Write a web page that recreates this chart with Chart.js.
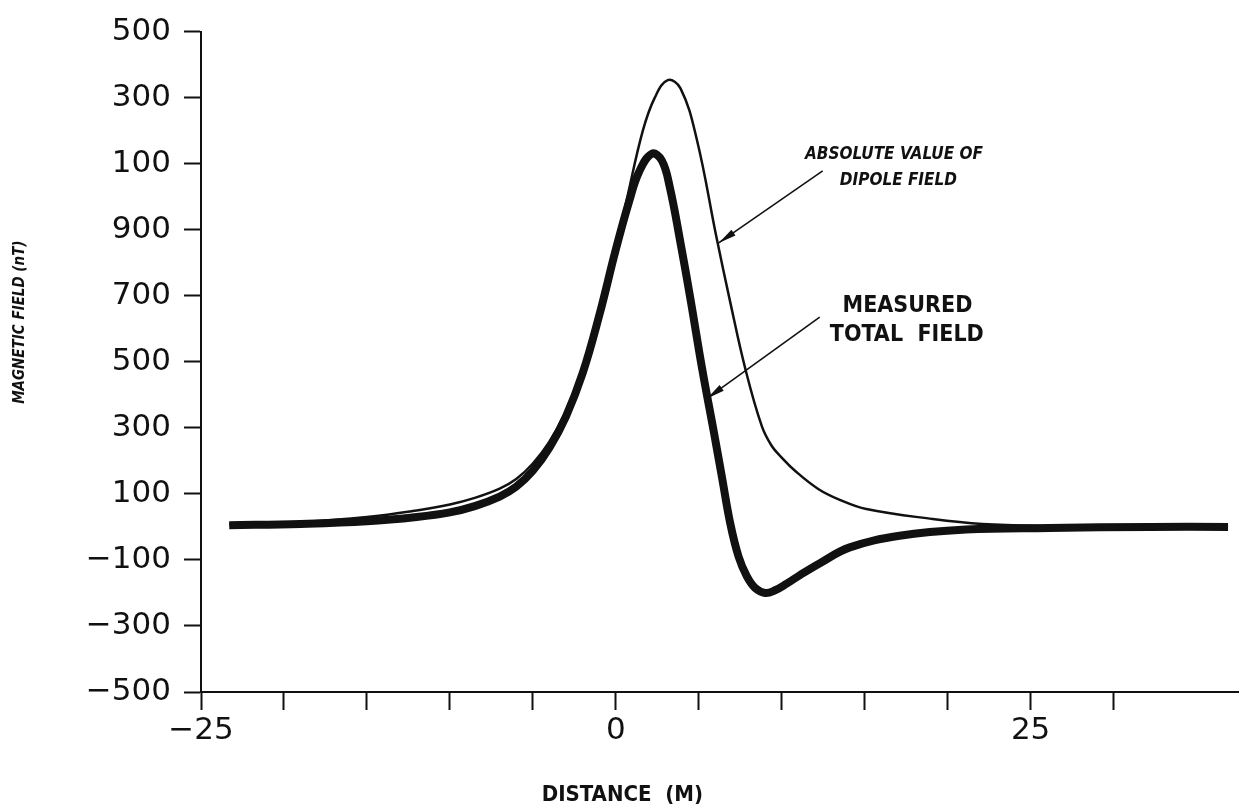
<!DOCTYPE html>
<html>
<head>
<meta charset="utf-8">
<script src="https://cdn.jsdelivr.net/npm/chart.js@4"></script>
<style>
  html, body { margin: 0; padding: 0; background: #fff; }
  #wrap { width: 1246px; height: 811px; }
</style>
</head>
<body>
<div id="wrap"><canvas id="fieldChart" width="1246" height="811"></canvas></div>
<script>
// absolute value of dipole field (thin line)
const dipoleX = [-23.3, -19, -15, -12, -10, -8.5, -7, -6, -5, -4, -3, -2, -1, 0, 0.7, 1.63, 2.35, 3.13, 3.9, 4.88, 6.08, 6.9, 7.8, 8.8, 9.4, 10, 10.8, 12.2, 13.5, 15.1, 19.1, 22.1, 26.1, 32.2, 36.9];
const dipoleY = [8, 15, 30, 50, 68, 88, 116, 145, 192, 258, 350, 470, 640, 845, 1000, 1200, 1300, 1353, 1328, 1174, 874, 680, 480, 305, 245, 210, 170, 115, 82, 54, 24, 9, 3, 0, 0];

// measured total field (thick line)
const measuredX = [-23.3, -19, -15, -12, -10, -8.5, -7, -6, -5, -4, -3, -2, -1, 0, 0.8, 1.4, 2.17, 2.77, 3.25, 3.9, 4.5, 5.2, 5.9, 6.4, 6.9, 7.4, 7.9, 8.4, 9, 9.6, 10.3, 11.1, 12.3, 14.1, 17.1, 21.1, 26.1, 32.2, 36.9];
const measuredY = [5, 9, 17, 30, 44, 63, 92, 122, 170, 240, 335, 465, 640, 840, 985, 1075, 1130, 1110, 1030, 860, 690, 480, 290, 150, 10, -90, -150, -185, -200, -192, -172, -146, -110, -62, -27, -8, -3, 0, 0];

// tick labels as printed (ascending value order)
const yTickLabels = ['\u2212500', '\u2212300', '\u2212100', '100', '300', '500', '700', '900', '100', '300', '500'];
const xLabelValues = [-25, 0, 25];
const xLabelTexts = ['\u221225', '0', '25'];

const tickFont = { family: '"DejaVu Sans", sans-serif', size: 31 };

// labels and arrows drawn on top, placed in data units
const notes = [
    { text: 'ABSOLUTE VALUE OF', x: 11.4, y: 1129, font: 'italic bold 17px "DejaVu Sans Condensed", "Liberation Sans Narrow", sans-serif' },
    { text: 'DIPOLE FIELD', x: 13.5, y: 1048, font: 'italic bold 17px "DejaVu Sans Condensed", "Liberation Sans Narrow", sans-serif' },
    { text: 'MEASURED', x: 13.67, y: 668, font: 'bold 23px "DejaVu Sans Condensed", "Liberation Sans Narrow", sans-serif' },
    { text: 'TOTAL  FIELD', x: 12.9, y: 581, font: 'bold 23px "DejaVu Sans Condensed", "Liberation Sans Narrow", sans-serif' },
];
const arrows = [
    { from: [12.47, 1078], to: [6.2, 860] },
    { from: [12.29, 635], to: [5.5, 389] },
];

const overlay = {
    id: 'overlay',
    afterDraw(chart) {
        const ctx = chart.ctx;
        const xs = chart.scales.x, ys = chart.scales.y;
        ctx.save();
        ctx.fillStyle = '#111';
        ctx.strokeStyle = '#111';
        ctx.textBaseline = 'middle';
        ctx.textAlign = 'left';
        notes.forEach(n => {
            ctx.font = n.font;
            ctx.fillText(n.text, xs.getPixelForValue(n.x), ys.getPixelForValue(n.y));
        });
        arrows.forEach(a => {
            const x1 = xs.getPixelForValue(a.from[0]), y1 = ys.getPixelForValue(a.from[1]);
            const x2 = xs.getPixelForValue(a.to[0]), y2 = ys.getPixelForValue(a.to[1]);
            ctx.lineWidth = 1.6;
            ctx.beginPath();
            ctx.moveTo(x1, y1);
            ctx.lineTo(x2, y2);
            ctx.stroke();
            const ang = Math.atan2(y2 - y1, x2 - x1);
            ctx.beginPath();
            ctx.moveTo(x2, y2);
            ctx.lineTo(x2 - 18 * Math.cos(ang) + 3.5 * Math.sin(ang), y2 - 18 * Math.sin(ang) - 3.5 * Math.cos(ang));
            ctx.lineTo(x2 - 18 * Math.cos(ang) - 3.5 * Math.sin(ang), y2 - 18 * Math.sin(ang) + 3.5 * Math.cos(ang));
            ctx.closePath();
            ctx.fill();
        });

        // axis titles
        ctx.textAlign = 'center';
        ctx.font = 'bold 22px "DejaVu Sans Condensed", "Liberation Sans Narrow", sans-serif';
        ctx.fillText('DISTANCE  (M)', xs.getPixelForValue(0.4), chart.height - 16);
        ctx.translate(ys.left + 20, ys.getPixelForValue(620));
        ctx.rotate(-Math.PI / 2);
        ctx.font = 'italic bold 15px "DejaVu Sans Condensed", "Liberation Sans Narrow", sans-serif';
        ctx.fillText('MAGNETIC FIELD (nT)', 0, 0);
        ctx.restore();
    }
};

new Chart(document.getElementById('fieldChart'), {
    type: 'line',
    data: {
        datasets: [{
            label: 'Absolute value of dipole field',
            data: dipoleX.map((x, i) => ({ x: x, y: dipoleY[i] })),
            borderColor: '#111',
            borderWidth: 2.5,
            tension: 0.4,
        },
        {
            label: 'Measured total field',
            data: measuredX.map((x, i) => ({ x: x, y: measuredY[i] })),
            borderColor: '#111',
            borderWidth: 8,
            tension: 0.4,
        }],
    },
    options: {
        responsive: false,
        animation: false,
        pointRadius: 0,
        layout: { padding: { left: 0, top: 24, right: 8, bottom: 0 } },
        plugins: {
            legend: { display: false },
            tooltip: { enabled: false },
        },
        scales: {
            x: {
                type: 'linear',
                min: -25,
                max: 37.5,
                afterBuildTicks: s => { s.ticks = s.ticks.filter(t => t.value % 5 === 0); },
                afterFit: s => { s.height = 811 - 692; },
                ticks: {
                    stepSize: 5,
                    autoSkip: false,
                    maxRotation: 0,
                    padding: 2,
                    color: '#111',
                    font: tickFont,
                    callback: v => {
                        const i = xLabelValues.indexOf(v);
                        return i >= 0 ? xLabelTexts[i] : '';
                    },
                },
                grid: { drawOnChartArea: false, tickLength: 18, tickWidth: 2, color: '#111' },
                border: { color: '#111', width: 2 },
            },
            y: {
                type: 'linear',
                min: -500,
                max: 1500,
                afterFit: s => { s.width = 201; },
                ticks: {
                    stepSize: 200,
                    padding: 13,
                    color: '#111',
                    font: tickFont,
                    callback: (v, i) => yTickLabels[i],
                },
                grid: { drawOnChartArea: false, tickLength: 17, tickWidth: 2, color: '#111' },
                border: { color: '#111', width: 2 },
            },
        },
    },
    plugins: [overlay],
});
</script>
</body>
</html>
